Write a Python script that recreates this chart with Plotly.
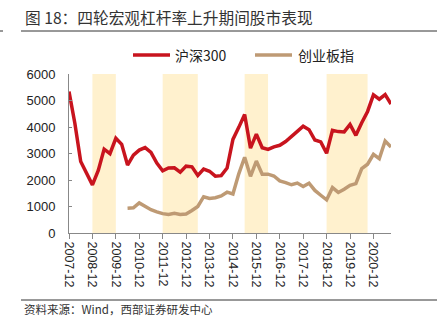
import plotly.graph_objects as go

# Quarter-end labels, 2007-12 .. 2021-09
quarters = []
for yr in range(2007, 2022):
    for m in ("03", "06", "09", "12"):
        q = f"{yr}-{m}"
        if "2007-12" <= q <= "2021-09":
            quarters.append(q)

# CSI 300 quarter-end closes
hs300 = [5338, 4140, 2700, 2293, 1817, 2359, 3164, 2996, 3575, 3345, 2564, 2935,
         3128, 3223, 3044, 2635, 2346, 2455, 2462, 2293, 2523, 2495, 2172, 2409,
         2330, 2146, 2165, 2450, 3533, 3986, 4473, 3202, 3731, 3218, 3154, 3253,
         3310, 3452, 3666, 3837, 4031, 3899, 3510, 3438, 3011, 3872, 3826, 3814,
         4097, 3686, 4164, 4587, 5211, 5048, 5224, 4866]

# ChiNext index quarter-end closes (index launched mid-2010)
chinext = [None] * 10 + [935, 950, 1137, 1010, 880, 800, 730, 700, 740, 700,
           715, 850, 1000, 1370, 1304, 1330, 1400, 1540, 1472, 2231, 2858, 2138,
           2714, 2217, 2220, 2150, 1964, 1902, 1820, 1883, 1753, 1881, 1606, 1425,
           1250, 1712, 1531, 1651, 1798, 1861, 2430, 2595, 2966, 2802, 3471, 3245]

series_names = ["沪深300", "创业板指"]
tick_labels = [q for q in quarters if q.endswith("-12")]

# Periods of rising macro leverage
periods = [("2008-12", "2009-12"), ("2011-12", "2013-06"),
           ("2015-06", "2016-06"), ("2018-12", "2020-09")]

RED = "#C8141E"
TAN = "#BE9A74"
SHADE = "#FFF1CE"
FONT = "Liberation Sans, Arial, Noto Sans CJK SC, sans-serif"
CJK = "Noto Sans CJK SC, sans-serif"

fig = go.Figure()
for name, vals, col in zip(series_names, [hs300, chinext], [RED, TAN]):
    fig.add_trace(go.Scatter(x=quarters, y=vals, mode="lines", name=name,
                             line=dict(color=col, width=3.5), showlegend=False))

idx = {q: i for i, q in enumerate(quarters)}
for a, b in periods:
    fig.add_shape(type="rect", xref="x", yref="y", x0=idx[a], x1=idx[b],
                  y0=0, y1=6000, fillcolor=SHADE, line_width=0, layer="below")

W, H = 439, 329
L, R, T, B = 69, 391, 74, 233


def px(x):
    return (x - L) / (R - L)


def py(y):
    return (B - y) / (B - T)


# Header / footer rules
for y in (31, 300):
    fig.add_shape(type="line", xref="paper", yref="paper", x0=px(21), x1=px(437),
                  y0=py(y), y1=py(y), line=dict(color="#333333", width=1))
fig.add_shape(type="line", xref="paper", yref="paper", x0=px(0), x1=px(3),
              y0=py(31), y1=py(31), line=dict(color="#333333", width=1))

fig.add_annotation(text="图 18：四轮宏观杠杆率上升期间股市表现", xref="paper", yref="paper",
                   x=px(23), y=py(17), xanchor="left", yanchor="middle", showarrow=False,
                   font=dict(family=CJK, size=15.7, color="#333333"))
fig.add_annotation(text="资料来源：Wind，西部证券研发中心", xref="paper", yref="paper",
                   x=px(22), y=py(309), xanchor="left", yanchor="middle", showarrow=False,
                   font=dict(family=CJK, size=11.5, color="#333333"))

# Legend: line sample + label for each series
legend_items = [(133, 170, 173), (255, 292, 296)]
for (x0, x1, tx), name, col in zip(legend_items, series_names, [RED, TAN]):
    fig.add_shape(type="line", xref="paper", yref="paper", x0=px(x0), x1=px(x1),
                  y0=py(55), y1=py(55), line=dict(color=col, width=3.5))
    fig.add_annotation(text=name, xref="paper", yref="paper", x=px(tx), y=py(55),
                       xanchor="left", yanchor="middle", showarrow=False,
                       font=dict(family=CJK, size=14, color="#222222"))

fig.update_layout(
    width=W, height=H,
    margin=dict(l=L, r=W - R, t=T, b=H - B),
    paper_bgcolor="white", plot_bgcolor="white",
    font=dict(family=FONT, size=13, color="#222222"),
    showlegend=False,
    xaxis=dict(type="category", range=[0, len(quarters) - 1], tickmode="array",
               tickvals=tick_labels, ticktext=tick_labels, tickangle=90,
               ticks="outside", ticklen=5, tickcolor="#888888",
               showline=True, linecolor="#888888", linewidth=1,
               showgrid=False, zeroline=False,
               tickfont=dict(family=FONT, size=12.5, color="#222222")),
    yaxis=dict(range=[0, 6000], tickvals=[0, 1000, 2000, 3000, 4000, 5000, 6000],
               ticks="inside", ticklen=3, tickcolor="#888888",
               showline=True, linecolor="#888888", linewidth=1,
               showgrid=False, zeroline=False, ticklabelstandoff=10,
               tickfont=dict(family=FONT, size=13, color="#222222")),
)

fig.write_html("out.html")
